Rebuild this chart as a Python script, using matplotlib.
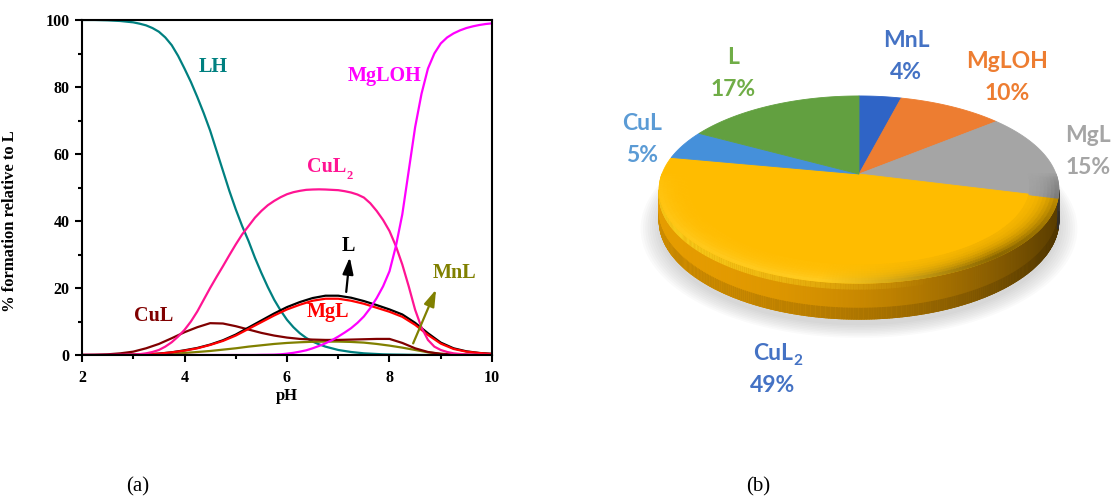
import numpy as np
import matplotlib.pyplot as plt
from matplotlib.patches import Polygon
from matplotlib.colors import to_rgb

# ---- (a) species distribution ----
# steep species are read every 0.125 pH, the flatter ones every 0.25 pH
ph_fine = np.linspace(2.0, 10.0, 65)
ph = np.linspace(2.0, 10.0, 33)

lh = [100, 100, 100, 99.95, 99.9, 99.8, 99.7, 99.5,
      99.3, 98.9, 98.4, 97.6, 96.5, 94.8, 92.5, 89.3,
      85.5, 81.5, 77, 72.2, 67, 61, 55, 49,
      43.5, 38.5, 34, 29, 24.5, 20.3, 16.5, 13.3,
      10.5, 8.3, 6.5, 5.1, 4.0, 3.2, 2.5, 2.0,
      1.5, 1.2, 0.9, 0.7, 0.5, 0.4, 0.3, 0.2,
      0.15, 0.12, 0.1, 0.07, 0.05, 0, 0, 0,
      0, 0, 0, 0, 0, 0, 0, 0, 0]
mgloh = [0, 0, 0, 0, 0, 0, 0, 0,
         0, 0, 0, 0, 0, 0, 0, 0,
         0, 0, 0, 0, 0, 0, 0, 0,
         0, 0, 0, 0, 0.05, 0.07, 0.1, 0.2,
         0.4, 0.65, 1.0, 1.4, 2.0, 2.7, 3.5, 4.4,
         5.5, 6.7, 8.0, 9.6, 11.5, 14, 17, 20.5,
         25, 32.5, 42, 55, 68, 78, 85.5, 90,
         93, 94.8, 96, 96.9, 97.6, 98.1, 98.5, 98.8, 99]
cul2 = [0, 0, 0, 0, 0, 0.02, 0.05, 0.07,
        0.1, 0.25, 0.5, 0.9, 1.5, 2.5, 3.8, 5.5,
        7.5, 10, 13, 16.5, 20, 23.3, 26.5, 29.8,
        33, 36, 38.5, 41, 43, 44.7, 46, 47.1,
        48, 48.6, 49, 49.3, 49.4, 49.45, 49.4, 49.3,
        49.2, 48.9, 48.5, 47.9, 47, 45.3, 43, 40.3,
        37, 32.5, 27, 20.5, 13.5, 8.2, 4.5, 2.5,
        1.5, 0.9, 0.5, 0.3, 0.2, 0.15, 0.1, 0.07, 0.05]
cul = [0, 0.05, 0.2, 0.5, 1.0, 2.0, 3.3, 5.0, 6.8, 8.3, 9.5, 9.4, 8.6, 7.6, 6.6,
       5.8, 5.2, 4.8, 4.6, 4.5, 4.5, 4.6, 4.7, 4.8, 4.8, 3.6, 2.0, 0.9, 0.35,
       0.15, 0.05, 0, 0]
mnl = [0, 0, 0, 0.02, 0.05, 0.1, 0.2, 0.35, 0.6, 0.9, 1.2, 1.6, 2.0, 2.5, 2.9,
       3.3, 3.6, 3.8, 3.95, 4.0, 4.0, 3.9, 3.7, 3.3, 2.8, 2.2, 1.5, 0.8, 0.35,
       0.15, 0.05, 0, 0]
l_free = [0, 0, 0, 0.05, 0.1, 0.2, 0.4, 0.8, 1.4, 2.1, 3.1, 4.4, 6.1, 8.2, 10.3,
          12.4, 14.3, 15.8, 17.0, 17.7, 17.7, 17.1, 16.1, 14.9, 13.6, 12.1, 9.6,
          6.5, 3.7, 2.0, 1.1, 0.6, 0.35]
mgl = [0, 0, 0, 0.05, 0.1, 0.2, 0.4, 0.8, 1.3, 2.0, 3.0, 4.2, 5.8, 7.8, 9.8,
       11.8, 13.6, 15.0, 16.2, 16.8, 16.8, 16.2, 15.3, 14.1, 12.9, 11.4, 9.0,
       6.0, 3.4, 1.8, 1.0, 0.6, 0.3]

# ---- (b) pie shares ----
pie_names = ['MnL', 'MgLOH', 'MgL', 'CuL', 'CuL', 'L']
pie_subs = ['', '', '', '2', '', '']
pie_share = [4, 10, 15, 49, 5, 17]
pie_face = ['#2F64C6', '#ED7D31', '#A5A5A5', '#FFBC00', '#4590DA', '#62A040']
pie_text = ['#4472C4', '#ED7D31', '#A5A5A5', '#4472C4', '#5B9BD5', '#70AD47']

W, H = 1112, 499
serif = 'Liberation Serif'
fig = plt.figure(figsize=(W / 100, H / 100), dpi=100)

ax = fig.add_axes([82 / W, 1 - 355 / H, 410 / W, 335 / H])
curves = [(ph_fine, lh, '#008080'), (ph, mnl, '#808000'), (ph, cul, '#800000'),
          (ph, l_free, 'black'), (ph, mgl, 'red'), (ph_fine, cul2, '#FF1493'),
          (ph_fine, mgloh, '#FF00FF')]
for xs, vals, col in curves:
    ax.plot(xs, vals, color=col, lw=1.6, solid_joinstyle='round')

ax.set_xlim(2, 10)
ax.set_ylim(0, 100)
ax.set_xticks([2, 4, 6, 8, 10])
ax.set_xticks([3, 5, 7, 9], minor=True)
ax.set_yticks(range(0, 101, 20))
ax.set_yticks(range(10, 100, 20), minor=True)
ax.tick_params(which='major', direction='out', length=5, width=1.5)
ax.tick_params(which='minor', direction='out', length=3, width=1.5)
ax.tick_params(axis='x', pad=6)
ax.tick_params(axis='y', pad=4)
for lab in ax.get_xticklabels() + ax.get_yticklabels():
    lab.set_fontfamily(serif)
    lab.set_fontweight('bold')
    lab.set_fontsize(11.5)
for sp in ax.spines.values():
    sp.set_linewidth(1.5)
ax.set_xlabel('pH', fontfamily=serif, fontweight='bold', fontsize=12, labelpad=1)
ax.set_ylabel('% formation relative to L', fontfamily=serif, fontweight='bold',
              fontsize=12)
ax.yaxis.set_label_coords(-0.155, 0.40)

lbl = dict(fontfamily=serif, fontweight='bold', fontsize=14.5, ha='center', va='center')
ax.text(4.56, 86, 'LH', color='#008080', **lbl)
ax.text(7.91, 83.4, 'MgLOH', color='#FF00FF', **lbl)
t_cul2 = ax.text(6.77, 56.2, 'CuL', color='#FF1493', **lbl)
ax.annotate('2', xy=(1, 0.05), xycoords=t_cul2, ha='left', va='center',
            fontfamily=serif, fontweight='bold', fontsize=9, color='#FF1493')
ax.text(3.4, 11.5, 'CuL', color='#800000', **lbl)
ax.text(6.8, 12.9, 'MgL', color='red', **lbl)
ax.text(7.2, 32.6, 'L', color='black', **lbl)
ax.text(9.27, 24.5, 'MnL', color='#808000', **lbl)

arrow = '-|>,head_length=0.5,head_width=0.16'
ax.annotate('', xy=(7.23, 30), xytext=(7.15, 18),
            arrowprops=dict(arrowstyle=arrow, color='black', lw=1.6, mutation_scale=20))
ax.annotate('', xy=(8.93, 20.3), xytext=(8.44, 2.7),
            arrowprops=dict(arrowstyle=arrow, color='#808000', lw=1.6, mutation_scale=20))

# ---- 3D pie drawn in pixel space ----
pax = fig.add_axes([0, 0, 1, 1])
pax.set_xlim(0, W)
pax.set_ylim(H, 0)
pax.axis('off')

cx, cy = 859, 174        # projected centre of the top face
rx, ry = 197, 91
persp = 0.166            # far side shrinks, near side grows
depth = 30


def rim(t, k=1.0, drop=0.0):
    u, v = k * np.cos(t), k * np.sin(t)
    d = 1 + persp * v
    return cx + rx * u / d, cy - ry * v / d + drop / d


def quad(a, b, k0, k1, d0, d1, col):
    xa, ya = rim(a, k0, d0)
    xb, yb = rim(b, k0, d0)
    xc, yc = rim(b, k1, d1)
    xd, yd = rim(a, k1, d1)
    pax.add_patch(Polygon([(xa, ya), (xb, yb), (xc, yc), (xd, yd)],
                          closed=True, fc=col, ec=col, lw=0.8))


bounds = np.concatenate([[0], np.cumsum(pie_share)]) / np.sum(pie_share)
starts = np.pi / 2 - 2 * np.pi * bounds[:-1]
ends = np.pi / 2 - 2 * np.pi * bounds[1:]


def slice_at(t):
    frac = ((np.pi / 2 - t) / (2 * np.pi)) % 1.0
    return int(np.searchsorted(bounds, frac, side='right') - 1)


x_lo, x_hi = cx - rx * 1.014, cx + rx * 1.014


def shade(x):
    n = np.clip((x - x_lo) / (x_hi - x_lo), 0, 1)
    return n, 0.9 - 0.55 * n ** 2.3


# soft shadow under the disc
tt = np.linspace(0, 2 * np.pi, 240)
for k in np.linspace(1.0, 1.09, 9):
    xs, ys = rim(tt, k, depth + 5)
    pax.add_patch(Polygon(np.column_stack([xs, ys]), closed=True,
                          fc='#7a7a7a', ec='none', alpha=0.035))

# side wall, warmer than the face and darkening to the right
gold_lip = np.array([1.0, 0.88, 0.15])
warm = np.array([1.0, 0.92, 0.8])
t_side = np.linspace(np.pi + np.arcsin(persp), 2 * np.pi - np.arcsin(persp), 261)
for a, b in zip(t_side[:-1], t_side[1:]):
    base = np.array(to_rgb(pie_face[slice_at((a + b) / 2)])) * warm
    n, f = shade(rim((a + b) / 2)[0])
    quad(a, b, 1, 1, 0, depth, np.clip(base * f, 0, 1))
    quad(a, b, 1, 1, depth * 0.7, depth, np.clip(base * f * 0.86, 0, 1))
    glow = max(0.0, 0.75 - 1.1 * n)
    if glow > 0:
        quad(a, b, 1, 1, 0.5, 5, np.clip(base * f * (1 - glow) + gold_lip * glow, 0, 1))

# top face slices
for i in range(len(pie_share)):
    ts = np.linspace(starts[i], ends[i], 120)
    xs, ys = rim(ts)
    pts = np.column_stack([np.r_[cx, xs], np.r_[cy, ys]])
    pax.add_patch(Polygon(pts, closed=True, fc=pie_face[i], ec=pie_face[i], lw=0.6))

# bevel along the front rim of the top face (opaque rings, strongest at the edge)
rings = np.linspace(0.86, 1.0, 9)
t_bev = np.linspace(np.pi, 2 * np.pi, 221)
for a, b in zip(t_bev[:-1], t_bev[1:]):
    tm = (a + b) / 2
    base = np.array(to_rgb(pie_face[slice_at(tm)]))
    n, _ = shade(rim(tm)[0])
    w = np.clip((n - 0.4) / 0.45, 0, 1)
    tint = (base * 0.45 + np.array([1, 0.95, 0.45]) * 0.55) * (1 - w) + base * 0.38 * w
    fade = np.sqrt(max(0.0, -np.sin(tm)))
    for j, (k0, k1) in enumerate(zip(rings[:-1], rings[1:])):
        amt = fade * (0.08 + 0.75 * ((j + 1) / (len(rings) - 1)) ** 2.2) * (0.6 + 0.4 * w)
        quad(a, b, k0, k1, 0, 0, np.clip(base * (1 - amt) + tint * amt, 0, 1))

# slice labels
label_xy = [(906, 40), (1007, 61), (1088, 135), (773, 353), (642, 123), (733, 57)]
sans = ['Lato', 'DejaVu Sans']
for i, (lx, ly) in enumerate(label_xy):
    tx = pax.text(lx, ly, pie_names[i], color=pie_text[i], fontfamily=sans,
                  fontweight='bold', fontsize=16.5, ha='center', va='center')
    if pie_subs[i]:
        pax.annotate(pie_subs[i], xy=(1, 0.12), xycoords=tx, ha='left', va='center',
                     color=pie_text[i], fontfamily=sans, fontweight='bold', fontsize=11)
    pax.text(lx, ly + 32, f'{pie_share[i]}%', color=pie_text[i], fontfamily=sans,
             fontweight='bold', fontsize=16.5, ha='center', va='center')

fig.text(138 / W, 1 - 487 / H, '(a)', fontfamily=serif, fontsize=15,
         ha='center', va='center')
fig.text(758 / W, 1 - 487 / H, '(b)', fontfamily=serif, fontsize=15,
         ha='center', va='center')

fig.savefig('out.png', dpi=100)
